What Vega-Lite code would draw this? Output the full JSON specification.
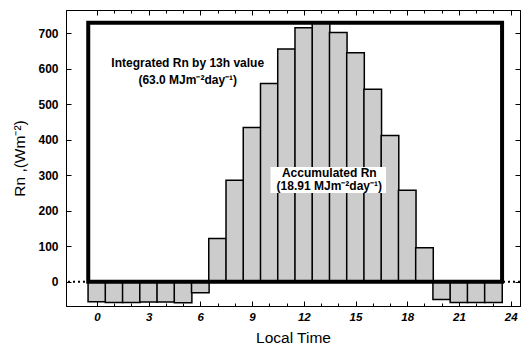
{
  "$schema": "https://vega.github.io/schema/vega-lite/v6.json",
  "autosize": "none",
  "width": 454,
  "height": 296,
  "padding": {"left": 66, "top": 10, "right": 1, "bottom": 45},
  "background": "white",
  "config": {
    "view": {"stroke": "black", "strokeWidth": 1},
    "font": "Liberation Sans",
    "axis": {"grid": false, "domainColor": "black", "tickColor": "black", "labelColor": "black", "titleColor": "black", "labelFont": "Liberation Sans", "titleFont": "Liberation Sans"}
  },
  "datasets": {
    "rn": [
      {"hour": 0, "Rn": -56}, {"hour": 1, "Rn": -58}, {"hour": 2, "Rn": -58}, {"hour": 3, "Rn": -57},
      {"hour": 4, "Rn": -57}, {"hour": 5, "Rn": -59}, {"hour": 6, "Rn": -31}, {"hour": 7, "Rn": 122},
      {"hour": 8, "Rn": 286}, {"hour": 9, "Rn": 434}, {"hour": 10, "Rn": 558}, {"hour": 11, "Rn": 655},
      {"hour": 12, "Rn": 715}, {"hour": 13, "Rn": 730}, {"hour": 14, "Rn": 702}, {"hour": 15, "Rn": 645},
      {"hour": 16, "Rn": 542}, {"hour": 17, "Rn": 412}, {"hour": 18, "Rn": 258}, {"hour": 19, "Rn": 96},
      {"hour": 20, "Rn": -50}, {"hour": 21, "Rn": -58}, {"hour": 22, "Rn": -58}, {"hour": 23, "Rn": -58}
    ],
    "one": [{"id": 1}]
  },
  "resolve": {"axis": {"x": "independent", "y": "independent"}},
  "layer": [
    {
      "data": {"name": "one"},
      "mark": {"type": "rule", "strokeDash": [2, 3], "strokeWidth": 2, "color": "black"},
      "encoding": {"y": {"datum": 0, "type": "quantitative", "axis": null}}
    },
    {
      "data": {"name": "rn"},
      "mark": {"type": "bar", "width": 17.6, "fill": "#cccccc", "stroke": "black", "strokeWidth": 1.5},
      "encoding": {
        "x": {"field": "hour", "type": "quantitative",
          "scale": {"domain": [-1.5, 24.25], "nice": false, "zero": false},
          "axis": {"orient": "bottom", "values": [0,1,2,3,4,5,6,7,8,9,10,11,12,13,14,15,16,17,18,19,20,21,22,23,24],
            "labelExpr": "datum.value % 3 === 0 ? datum.label : ''",
            "tickSize": {"condition": {"test": "datum.value % 3 === 0", "value": -5}, "value": -3},
            "labelPadding": 10, "labelFontSize": 11.5, "labelFontWeight": "bold", "labelFontStyle": "italic",
            "title": "Local Time", "titleFontSize": 15.5, "titleFontWeight": "normal", "titlePadding": 8, "domain": true}},
        "y": {"field": "Rn", "type": "quantitative",
          "scale": {"domain": [-68, 765], "nice": false, "zero": false},
          "axis": {"orient": "left", "values": [0,100,200,300,400,500,600,700], "tickSize": -5,
            "labelPadding": 13, "labelFontSize": 12, "labelFontWeight": "bold",
            "title": "Rn ,(Wm⁻²)", "titleFontSize": 15.5, "titleFontWeight": "normal", "titlePadding": 10}}
      }
    },
    {
      "data": {"name": "rn"},
      "mark": {"type": "bar", "width": 17.6, "opacity": 0},
      "encoding": {
        "x": {"field": "hour", "type": "quantitative",
          "axis": {"orient": "top", "values": [0,1,2,3,4,5,6,7,8,9,10,11,12,13,14,15,16,17,18,19,20,21,22,23,24],
            "labels": false, "title": null,
            "tickSize": {"condition": {"test": "datum.value % 3 === 0", "value": -5}, "value": -3}}},
        "y": {"field": "Rn", "type": "quantitative",
          "axis": {"orient": "right", "values": [0,100,200,300,400,500,600,700], "tickSize": -5, "labels": false, "title": null}}
      }
    },
    {
      "data": {"name": "one"},
      "mark": {"type": "rect", "filled": false, "stroke": "black", "strokeWidth": 4},
      "encoding": {
        "x": {"datum": -0.5, "type": "quantitative", "axis": null},
        "x2": {"datum": 23.5},
        "y": {"datum": 0, "type": "quantitative", "axis": null},
        "y2": {"datum": 729}
      }
    },
    {
      "data": {"name": "one"},
      "mark": {"type": "rect", "fill": "white"},
      "encoding": {
        "x": {"datum": 10.07, "type": "quantitative", "axis": null},
        "x2": {"datum": 16.77},
        "y": {"datum": 250, "type": "quantitative", "axis": null},
        "y2": {"datum": 323}
      }
    },
    {
      "data": {"name": "one"},
      "mark": {"type": "text", "fontSize": 12, "fontWeight": "bold", "color": "black", "align": "center", "baseline": "middle"},
      "encoding": {
        "x": {"datum": 5.27, "type": "quantitative", "axis": null},
        "y": {"datum": 615, "type": "quantitative", "axis": null},
        "text": {"value": "Integrated Rn by 13h value"}
      }
    },
    {
      "data": {"name": "one"},
      "mark": {"type": "text", "fontSize": 12, "fontWeight": "bold", "color": "black", "align": "center", "baseline": "middle"},
      "encoding": {
        "x": {"datum": 5.27, "type": "quantitative", "axis": null},
        "y": {"datum": 568, "type": "quantitative", "axis": null},
        "text": {"value": "(63.0 MJm⁻²day⁻¹)"}
      }
    },
    {
      "data": {"name": "one"},
      "mark": {"type": "text", "fontSize": 12, "fontWeight": "bold", "color": "black", "align": "center", "baseline": "middle"},
      "encoding": {
        "x": {"datum": 13.48, "type": "quantitative", "axis": null},
        "y": {"datum": 307, "type": "quantitative", "axis": null},
        "text": {"value": "Accumulated Rn"}
      }
    },
    {
      "data": {"name": "one"},
      "mark": {"type": "text", "fontSize": 12, "fontWeight": "bold", "color": "black", "align": "center", "baseline": "middle"},
      "encoding": {
        "x": {"datum": 13.48, "type": "quantitative", "axis": null},
        "y": {"datum": 270, "type": "quantitative", "axis": null},
        "text": {"value": "(18.91 MJm⁻²day⁻¹)"}
      }
    }
  ]
}
